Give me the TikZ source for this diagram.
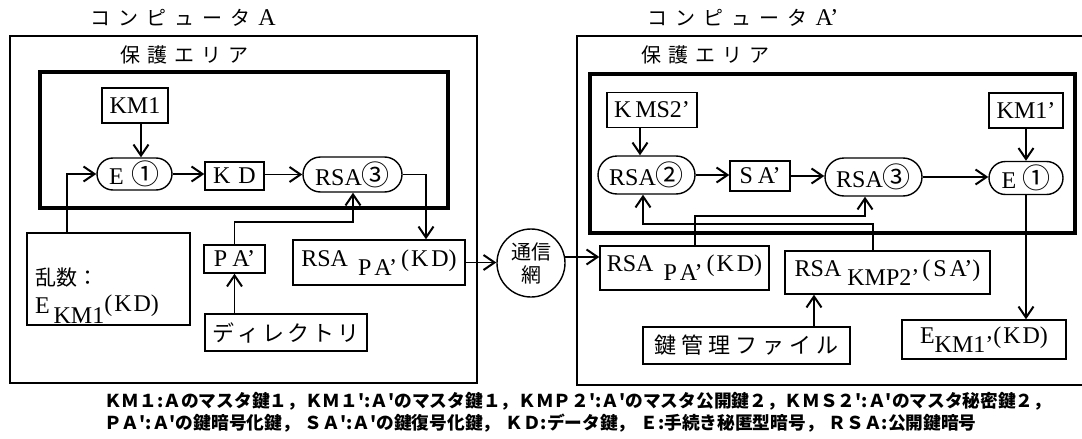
\documentclass[tikz,border=0pt]{standalone}
\usepackage{fontspec}
\setmainfont{Liberation Serif}
\newfontfamily\jp{Noto Sans CJK JP}
\usetikzlibrary{arrows.meta,shapes.misc}
\newcommand\lf{\fontsize{24}{28}\selectfont}
\newcommand\cd[1]{{\jp\fontsize{28}{28}\selectfont #1}}
\newcommand\jf{\jp\fontsize{21}{26}\selectfont}
\newcommand\cs{\hspace{5pt}}
\begin{document}
\begin{tikzpicture}[x=1pt,y=-1pt,
  frame/.style={line width=1.4pt},
  prot/.style={line width=3.4pt},
  box/.style={draw, line width=1.4pt, inner sep=0pt, font=\lf},
  pill/.style={box, rounded rectangle},
  conn/.style={line width=1.3pt},
  arr/.style={conn, -{Straight Barb[length=11pt,width=15pt,line width=2pt]}},
  ttl/.style={font=\jp\fontsize{20}{20}\selectfont, inner sep=0pt},
  captxt/.style={anchor=west, inner sep=0pt, font=\jp\bfseries\fontsize{17.7}{17.7}\selectfont}]
\useasboundingbox (0,0) rectangle (1082,439);

% frames
\draw[frame] (10,36) rectangle (477,383);
\draw[prot] (40,72) rectangle (448,208);
\draw[frame] (1090,36) -- (577,36) -- (577,385) -- (1090,385);
\draw[prot] (590,74) rectangle (1075,233);

% titles
\node[ttl] (tA) at (183,18) {コ\hspace{8pt}ン\hspace{8pt}ピ\hspace{8pt}ュ\hspace{8pt}ー\hspace{8pt}タ\hspace{8pt}{\rmfamily\fontsize{24}{24}\selectfont A}};
\node[ttl] (pA) at (184,55) {保\hspace{7pt}護\hspace{7pt}エ\hspace{7pt}リ\hspace{7pt}ア};
\node[ttl] (tB) at (743,18) {コ\hspace{8pt}ン\hspace{8pt}ピ\hspace{8pt}ュ\hspace{8pt}ー\hspace{8pt}タ\hspace{8pt}{\rmfamily\fontsize{24}{24}\selectfont A'}};
\node[ttl] (pB) at (705,55) {保\hspace{7pt}護\hspace{7pt}エ\hspace{7pt}リ\hspace{7pt}ア};

% left nodes
\node[box, minimum width=66pt, minimum height=35pt] (KM1) at (135,105.5) {KM1};
\node[pill, minimum width=75pt, minimum height=32pt] (E1L) at (134.5,174) {E\hspace{8pt}\cd{①}};
\node[box, minimum width=59pt, minimum height=28pt] (KD) at (234.5,176) {K\hspace{8pt}D};
\node[pill, minimum width=99pt, minimum height=35pt] (R3L) at (352.5,174.5) {RSA\cd{③}};
\node[box, minimum width=172pt, minimum height=45pt] (rsaL) at (379,262.5) {RSA\hspace{10pt}\raisebox{-9pt}{P\hspace{3pt}A'}\hspace{4pt}(\hspace{2pt}K\hspace{3pt}D)};
\node[box, minimum width=163pt, minimum height=92pt, text width=147pt, inner xsep=8pt, align=left] (rand) at (108.5,279) {{\jf\rule{0pt}{50pt}乱数：}\\E\hspace{4pt}\raisebox{-10pt}{KM1}\raisebox{2pt}{(\hspace{2pt}K\hspace{2pt}D)}};
\node[box, minimum width=61pt, minimum height=28pt] (PA) at (234.5,259) {P\hspace{5pt}A'};
\node[box, minimum width=162pt, minimum height=37pt, font=\jp\fontsize{22}{22}\selectfont] (dir) at (286,332.5) {デ\hspace{3pt}ィ\hspace{3pt}レ\hspace{3pt}ク\hspace{3pt}ト\hspace{3pt}リ};
\node[draw, circle, line width=1.4pt, minimum size=68pt, inner sep=0pt, align=center, font=\jp\fontsize{20}{23}\selectfont] (net) at (531,263) {通信\\網};

% right nodes
\node[box, minimum width=90pt, minimum height=35pt] (KMS) at (652,110) {K\hspace{4pt}MS2'};
\node[box, minimum width=74pt, minimum height=35pt] (KM1p) at (1026,110.5) {KM1'};
\node[pill, minimum width=97pt, minimum height=38pt] (R2) at (646.5,175) {RSA\cd{②}};
\node[box, minimum width=60pt, minimum height=30pt] (SA) at (760,176) {S\hspace{5pt}A'};
\node[pill, minimum width=97pt, minimum height=38pt] (R3R) at (873.5,177) {RSA\cd{③}};
\node[pill, minimum width=74pt, minimum height=33pt] (E1R) at (1026,178) {E\hspace{6pt}\cd{①}};
\node[box, minimum width=169pt, minimum height=44pt] (rsaR) at (684.5,268) {RSA\hspace{10pt}\raisebox{-9pt}{P\hspace{3pt}A'}\hspace{4pt}(\hspace{2pt}K\hspace{3pt}D)};
\node[box, minimum width=205pt, minimum height=43pt] (rsaK) at (887.5,272.5) {RSA\hspace{6pt}\raisebox{-9pt}{KMP2'}\hspace{3pt}(\hspace{3pt}S\hspace{3pt}A')};
\node[box, minimum width=207pt, minimum height=37pt, font=\jp\fontsize{22}{22}\selectfont] (key) at (746.5,345.5) {鍵\hspace{5pt}管\hspace{5pt}理\hspace{5pt}フ\hspace{5pt}ァ\hspace{5pt}イ\hspace{5pt}ル};
\node[box, minimum width=164pt, minimum height=39pt] (EKM) at (984,339.5) {E\raisebox{-9pt}{KM1'}(\hspace{2pt}K\hspace{2pt}D)};

% left connectors
\draw[arr] ([xshift=6pt]KM1.south) -- ([xshift=6pt]KM1.south |- E1L.north);
\draw[arr] (E1L.east) -- (E1L.east -| KD.west);
\draw[arr] (KD.east |- R3L.west) -- (R3L.west);
\coordinate (c1) at (426,174.5);
\draw[arr] (R3L.east) -- (c1) -- (c1 |- rsaL.north);
\coordinate (c2) at (67,174);
\draw[arr] (c2 |- rand.north) -- (c2) -- (E1L.west);
\coordinate (c3) at (353,222);
\draw[arr] (PA.north) |- (c3) -- (c3 |- R3L.south);
\draw[arr] (dir.north -| PA.south) -- (PA.south);
\draw[arr] (rsaL.east) -- (net.west |- rsaL.east);
\draw[arr] (net.10) -- (rsaR.west |- net.10);

% right connectors
\draw[arr] ([xshift=-12pt]KMS.south) -- ([xshift=-12pt]KMS.south |- R2.north);
\draw[arr] (KM1p.south) -- (KM1p.south |- E1R.north);
\draw[arr] (R2.east) -- (R2.east -| SA.west);
\draw[arr] (SA.east) -- (SA.east -| R3R.west);
\draw[arr] (R3R.east) -- (R3R.east -| E1R.west);
\draw[arr] (E1R.south) -- (E1R.south |- EKM.north);
\coordinate (c4) at (865,216);
\draw[arr] ([xshift=10.5pt]rsaR.north) |- (c4) -- (c4 |- R3R.south);
\coordinate (c5) at (643,224);
\coordinate (c6) at (873,224);
\draw[arr] (c6 |- rsaK.north) -- (c6) -- (c5) -- (c5 |- R2.south);
\coordinate (c7) at (814,300);
\draw[arr] (c7 |- key.north) -- (c7 |- rsaK.south);

% caption
\node[captxt] (cap1) at (104,401) {ＫＭ１:Ａのマスタ鍵１，ＫＭ１':Ａ'のマスタ鍵１，ＫＭＰ２':Ａ'のマスタ公開鍵２，ＫＭＳ２':Ａ'のマスタ秘密鍵２，};
\node[captxt] (cap2) at (104,423) {ＰＡ':Ａ'の鍵暗号化鍵，\cs ＳＡ':Ａ'の鍵復号化鍵，\cs ＫＤ:データ鍵，\cs Ｅ:手続き秘匿型暗号，\cs ＲＳＡ:公開鍵暗号};
\end{tikzpicture}
\end{document}
